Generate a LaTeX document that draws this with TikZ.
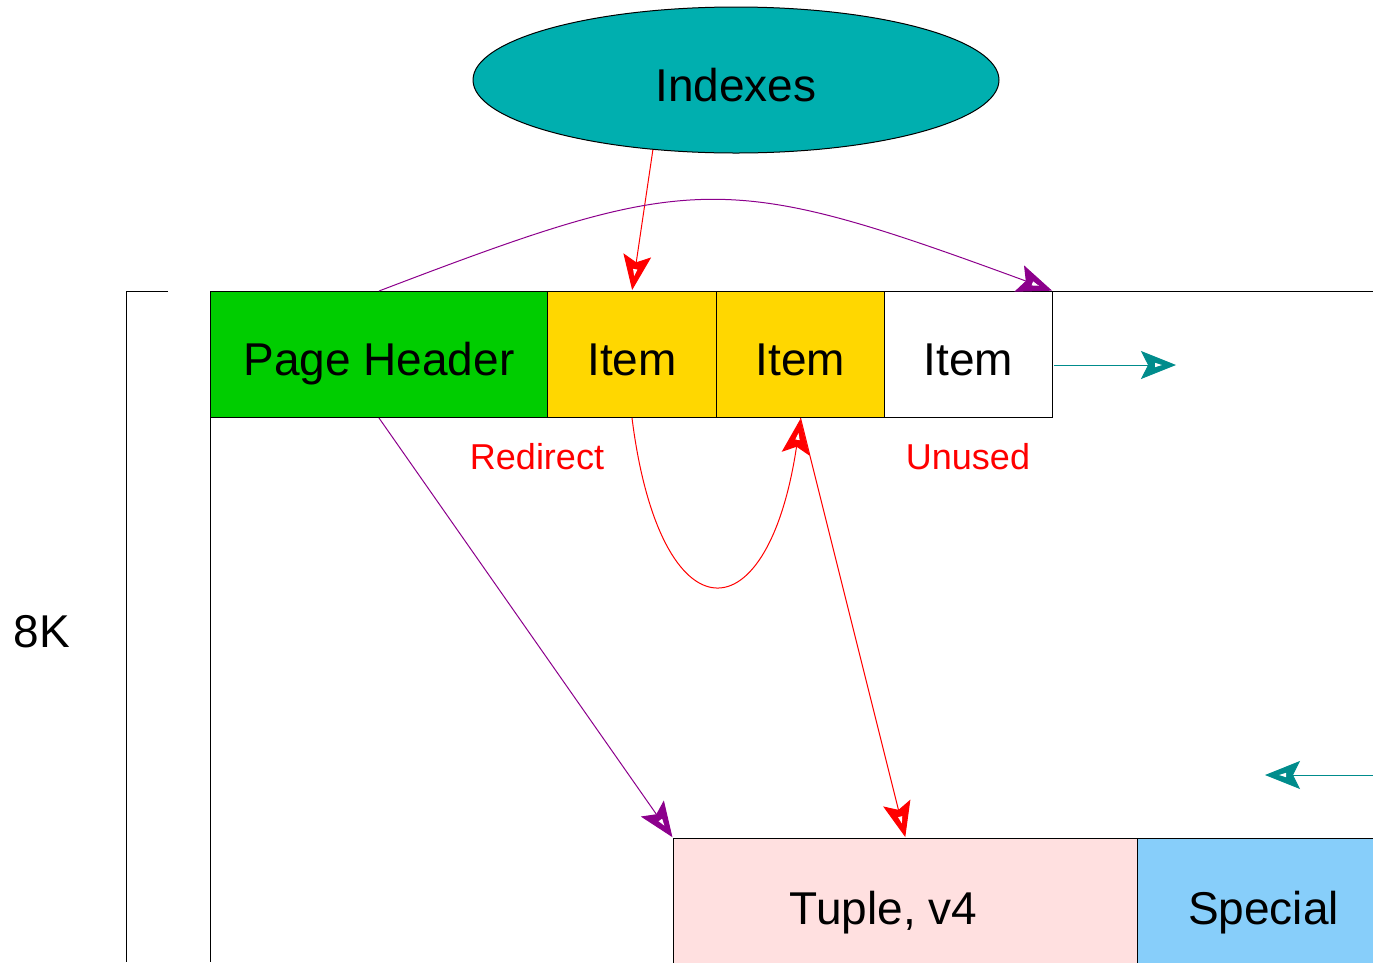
\documentclass[tikz,border=0pt]{standalone}
\usepackage{fontspec}
\setmainfont{Liberation Sans}
\usetikzlibrary{arrows.meta,shapes.geometric}
\definecolor{hdrgreen}{RGB}{0,205,0}
\definecolor{itemyellow}{RGB}{255,215,0}
\definecolor{tuplepink}{RGB}{255,224,224}
\definecolor{specblue}{RGB}{135,206,250}
\definecolor{ellteal}{RGB}{0,175,175}
\definecolor{arrteal}{RGB}{0,140,140}
\definecolor{arrpurple}{RGB}{140,0,140}
\tikzset{
  barb/.tip={Stealth[length=35pt,width=28pt,inset=7pt,sep=-21pt] Triangle[fill=white,color=white,length=7pt,width=4pt,sep=15pt]},
  bigtext/.style={font=\fontsize{46}{52}\selectfont},
  lbltext/.style={font=\fontsize{36}{42}\selectfont, text=red},
  cell/.style={draw=black, line width=1pt, rectangle, anchor=north west, minimum height=126pt, inner sep=0pt, bigtext, text height=41pt, text depth=0pt},
  lowcell/.style={draw=black, line width=1pt, rectangle, anchor=north west, minimum height=138pt, inner sep=0pt, bigtext, text height=33pt, text depth=0pt},
  redarr/.style={draw=red, line width=1pt, -barb},
  purarr/.style={draw=arrpurple, line width=1pt, -barb},
  tealarr/.style={draw=arrteal, line width=1pt, -barb},
  plain/.style={draw=black, line width=1pt}
}
\begin{document}
\begin{tikzpicture}[x=1pt, y=-1pt]
\useasboundingbox (0,0) rectangle (1373,962);
% frame lines
\coordinate (brA) at (168,291);
\coordinate (brB) at (126,291);
\coordinate (brC) at (126,962);
\draw[plain] (brA) -- (brB) -- (brC);
\coordinate (pgL) at (210,962);
\coordinate (pgTR) at (1373,291);
% top row
\node[cell, fill=hdrgreen, minimum width=337pt] (ph) at (210,291) {Page Header};
\node[cell, fill=itemyellow, minimum width=169pt] (it1) at (547,291) {Item};
\node[cell, fill=itemyellow, minimum width=168pt] (it2) at (716,291) {Item};
\node[cell, fill=white, minimum width=168pt] (it3) at (884,291) {Item};
\draw[plain] (ph.south west) -- (pgL);
\draw[plain] (it3.north east) -- (pgTR);
% bottom row
\node[lowcell, fill=tuplepink, minimum width=464pt] (tup) at (673,838) {\hspace*{-44pt}Tuple, v4};
\node[lowcell, fill=specblue, minimum width=252pt] (spec) at (1137,838) {Special};
% ellipse
\node[ellipse, draw=black, line width=1pt, fill=ellteal, minimum width=526pt, minimum height=146pt, inner sep=0pt, bigtext, text height=43pt, text depth=0pt] (idx) at (736,80) {Indexes};
% labels
\node[lbltext] (redir) at (537,457) {Redirect};
\node[lbltext] (unused) at (968,457) {Unused};
\node[bigtext] (eightk) at (42,632) {8K};
% connectors
\draw[redarr] (idx.220) -- (it1.north);
\draw[purarr] (ph.north) .. controls (696,170) and (724,170) .. (it3.north east);
\draw[purarr] (ph.south) -- (tup.north west);
\draw[redarr] (it1.south) .. controls (660,641) and (770,641) .. (it2.south);
\draw[redarr] (it2.south) -- (tup.north);
\coordinate (tA) at (1054,365);
\coordinate (tB) at (1177,365);
\coordinate (tC) at (1373,775);
\coordinate (tD) at (1264,775);
\draw[tealarr] (tA) -- (tB);
\draw[tealarr] (tC) -- (tD);
\end{tikzpicture}
\end{document}
